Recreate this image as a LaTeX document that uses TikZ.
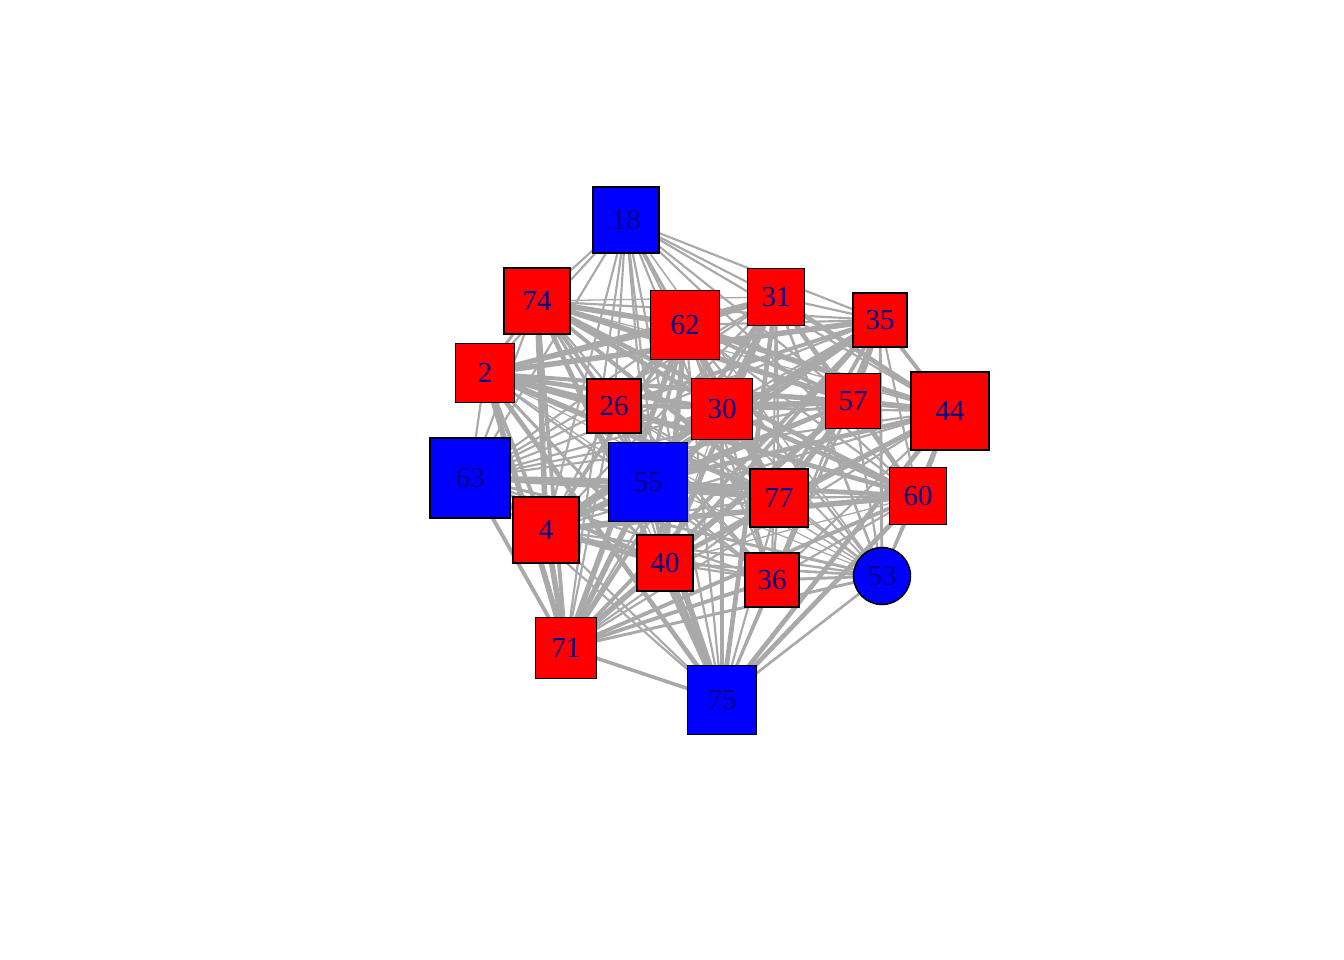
\documentclass[tikz,border=0pt]{standalone}
\usepackage{fontspec}
\setmainfont{Liberation Serif}
\usetikzlibrary{backgrounds}
\definecolor{edgegray}{RGB}{169,169,169}
\definecolor{labblue}{RGB}{0,0,139}
\definecolor{vred}{RGB}{255,0,0}
\definecolor{vblue}{RGB}{0,0,255}
\begin{document}
\begin{tikzpicture}[x=1pt,y=-1pt,
  vtx/.style={draw=black,line width=1.5pt,minimum size=#1,inner sep=0pt,
    font=\fontsize{29}{29}\selectfont,text=labblue},
  rv/.style={vtx=#1,fill=vred,rectangle},
  bv/.style={vtx=#1,fill=vblue,rectangle},
  bc/.style={vtx=#1,fill=vblue,circle},
  edge/.style={draw=edgegray,line width=#1}]
\useasboundingbox (0,0) rectangle (1344,960);
\node[bv=66] (n18) at (626,220) {18};
\node[rv=66] (n74) at (537,301) {74};
\node[rv=69] (n62) at (685,325) {62};
\node[rv=57] (n31) at (776,297) {31};
\node[rv=54] (n35) at (880,320) {35};
\node[rv=59] (n2) at (485,373) {2};
\node[rv=54] (n26) at (614,406) {26};
\node[rv=61] (n30) at (722,409) {30};
\node[rv=55] (n57) at (853,401) {57};
\node[rv=78] (n44) at (950,411) {44};
\node[bv=80] (n63) at (470,478) {63};
\node[bv=79] (n55) at (648,482) {55};
\node[rv=58] (n77) at (779,498) {77};
\node[rv=57] (n60) at (918,496) {60};
\node[rv=66] (n4) at (546,530) {4};
\node[rv=56] (n40) at (665,563) {40};
\node[rv=54] (n36) at (772,580) {36};
\node[bc=57] (n53) at (882,576) {53};
\node[rv=61] (n71) at (566,648) {71};
\node[bv=69] (n75) at (722,700) {75};
\begin{scope}[on background layer]
\foreach \a [count=\i] in {18,74,62,31,35,2,26,30,57,44,63,55,77,60,4,40,36,53,71,75}{
  \foreach \b [count=\j] in {18,74,62,31,35,2,26,30,57,44,63,55,77,60,4,40,36,53,71,75}{
    \ifnum\j>\i
      \pgfmathsetmacro\w{(\i==18 || \j==18) ? (1.2+0.35*mod(\i*7+\j*11,6)) : (1.3+0.85*mod(\i*7+\j*11+\i*\j,6))}
      \draw[edge=\w pt] (n\a.center) -- (n\b.center);
    \fi
  }
}
\draw[edge=3.5pt] (n71.center) -- (n75.center);
\end{scope}
\end{tikzpicture}
\end{document}
